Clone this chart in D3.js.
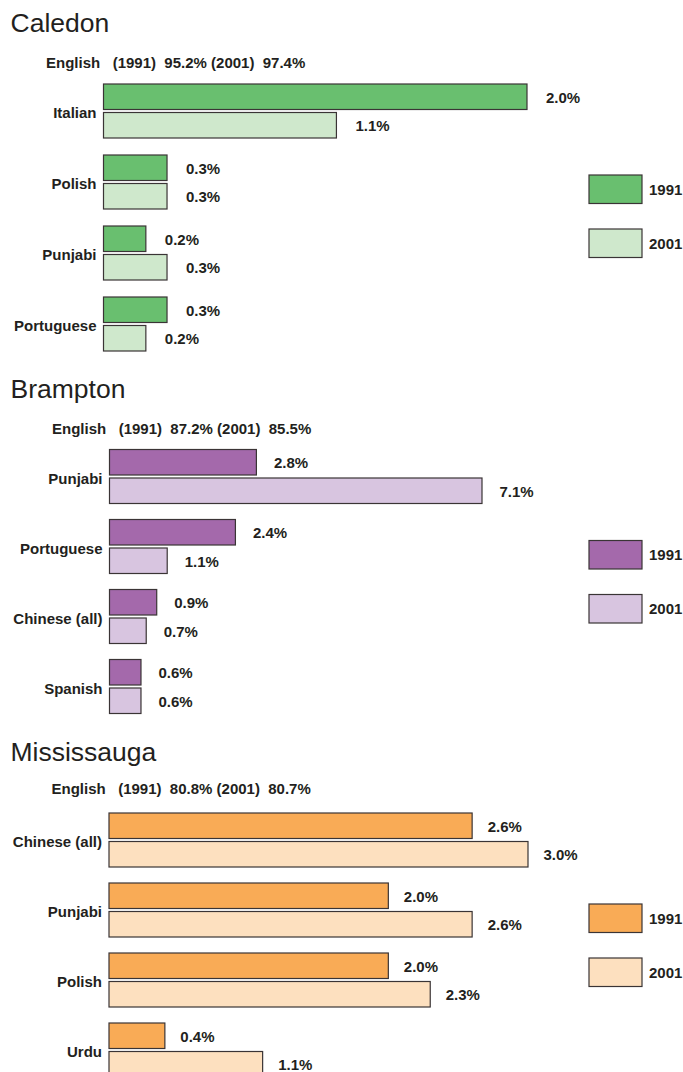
<!DOCTYPE html>
<html>
<head>
<meta charset="utf-8">
<script src="https://cdn.jsdelivr.net/npm/d3@7"></script>
<style>
  body { margin: 0; background: #fff; }
  svg { display: block; font-family: "Liberation Sans", Arial, Helvetica, sans-serif; }
  .title { font-size: 26.5px; fill: #231f20; }
  .lbl { font-size: 15px; font-weight: bold; fill: #231f20; }
</style>
</head>
<body>
<svg id="chart"></svg>
<script>
const width = 683, height = 1072;
const years = ["1991", "2001"];

// Caledon
const calCategories = ["Italian", "Polish", "Punjabi", "Portuguese"];
const cal1991 = [2.0, 0.3, 0.2, 0.3];
const cal2001 = [1.1, 0.3, 0.3, 0.2];
const calEnglish = [95.2, 97.4];

// Brampton
const bramCategories = ["Punjabi", "Portuguese", "Chinese (all)", "Spanish"];
const bram1991 = [2.8, 2.4, 0.9, 0.6];
const bram2001 = [7.1, 1.1, 0.7, 0.6];
const bramEnglish = [87.2, 85.5];

// Mississauga
const missCategories = ["Chinese (all)", "Punjabi", "Polish", "Urdu"];
const miss1991 = [2.6, 2.0, 2.0, 0.4];
const miss2001 = [3.0, 2.6, 2.3, 1.1];
const missEnglish = [80.8, 80.7];

const panels = [
    {name: "Caledon", cats: calCategories, v1: cal1991, v2: cal2001, eng: calEnglish,
     top: 84, step: 71, x0: 103.5, x1: 527, engDy: 16.5, valGap: 19,
     colors: ["#69bf6f", "#cfe8cc"]},
    {name: "Brampton", cats: bramCategories, v1: bram1991, v2: bram2001, eng: bramEnglish,
     top: 449.5, step: 70, x0: 109.5, x1: 482, engDy: 15.5, valGap: 17.5,
     colors: ["#a469ab", "#d8c5e0"]},
    {name: "Mississauga", cats: missCategories, v1: miss1991, v2: miss2001, eng: missEnglish,
     top: 813, step: 70, x0: 109, x1: 528, engDy: 19.5, valGap: 15.5,
     colors: ["#f9ab56", "#fde0bf"]}
];

const svg = d3.select("#chart")
    .attr("width", width)
    .attr("height", height);

const barH = 25.5, barGap = 3;
const groupH = barH * 2 + barGap;

panels.forEach(p => {
    const g = svg.append("g");

    const x = d3.scaleLinear()
        .domain([0, d3.max(p.v1.concat(p.v2))])
        .range([p.x0, p.x1]);

    const y0 = d3.scaleBand()
        .domain(p.cats)
        .range([p.top, p.top + p.step * (p.cats.length - 1) + groupH])
        .paddingInner((p.step - groupH) / p.step)
        .paddingOuter(0);

    const y1 = d3.scaleBand()
        .domain(years)
        .range([0, groupH])
        .paddingInner(barGap / (barH + barGap));

    const color = d3.scaleOrdinal().domain(years).range(p.colors);

    // title
    g.append("text")
        .attr("class", "title")
        .attr("x", 10.5)
        .attr("y", p.top - 52)
        .text(p.name);

    // English line
    g.append("text")
        .attr("class", "lbl")
        .attr("x", p.x0 - 57.5)
        .attr("y", p.top - p.engDy)
        .style("white-space", "pre")
        .text(`English   (1991)  ${p.eng[0].toFixed(1)}% (2001)  ${p.eng[1].toFixed(1)}%`);

    const rows = p.cats.map((c, i) => ({cat: c, vals: [
        {year: "1991", v: p.v1[i]},
        {year: "2001", v: p.v2[i]}
    ]}));

    const grp = g.selectAll(".grp")
        .data(rows)
        .join("g")
        .attr("class", "grp")
        .attr("transform", d => `translate(0,${y0(d.cat)})`);

    grp.append("text")
        .attr("class", "lbl")
        .attr("x", p.x0 - 7)
        .attr("y", y0.bandwidth() / 2 + 7)
        .attr("text-anchor", "end")
        .text(d => d.cat);

    grp.selectAll("rect")
        .data(d => d.vals)
        .join("rect")
        .attr("x", p.x0)
        .attr("y", d => y1(d.year))
        .attr("width", d => x(d.v) - p.x0)
        .attr("height", y1.bandwidth())
        .attr("fill", d => color(d.year))
        .attr("stroke", "#3a3435")
        .attr("stroke-width", 1.2);

    grp.selectAll(".val")
        .data(d => d.vals)
        .join("text")
        .attr("class", "lbl val")
        .attr("x", d => x(d.v) + p.valGap)
        .attr("y", d => y1(d.year) + y1.bandwidth() / 2 + 6)
        .text(d => d.v.toFixed(1) + "%");

    // legend
    const leg = g.selectAll(".leg")
        .data(years)
        .join("g")
        .attr("class", "leg")
        .attr("transform", (d, i) => `translate(589,${p.top + 91 + i * 54})`);

    leg.append("rect")
        .attr("width", 53)
        .attr("height", 28.5)
        .attr("fill", d => color(d))
        .attr("stroke", "#3a3435")
        .attr("stroke-width", 1.2);

    leg.append("text")
        .attr("class", "lbl")
        .attr("x", 60)
        .attr("y", 19.5)
        .text(d => d);
});
</script>
</body>
</html>
